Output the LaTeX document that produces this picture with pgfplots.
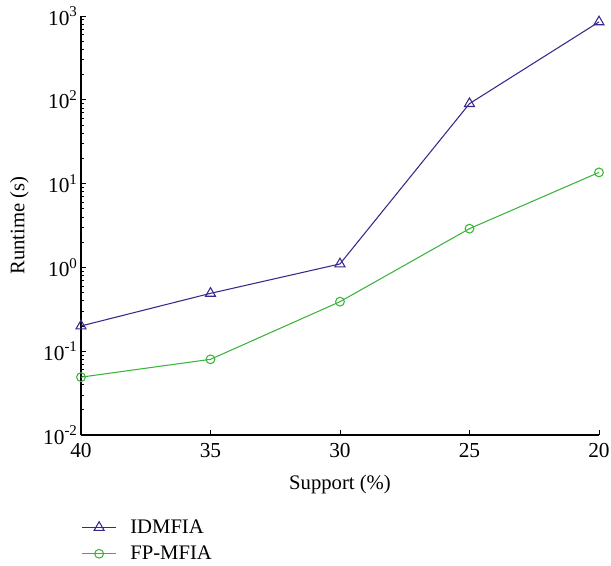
\documentclass[border=0pt]{standalone}
\usepackage{fontspec}
\setmainfont{Liberation Serif}
\usepackage{pgfplots}
\pgfplotsset{compat=1.18}
\definecolor{idm}{RGB}{55,40,140}
\definecolor{fpm}{RGB}{60,180,60}
\begin{document}
\begin{tikzpicture}
\useasboundingbox (-60.75pt,-98.25pt) rectangle (397.5pt,326.25pt);
\begin{semilogyaxis}[
  at={(0,0)}, anchor=south west,
  scale only axis,
  width=388.5pt, height=314.25pt,
  x dir=reverse,
  xmin=20, xmax=40,
  ymin=1e-2, ymax=1e3,
  xtick={40,35,30,25,20},
  ytick={1e-2,1e-1,1e0,1e1,1e2,1e3},
  yticklabels={10\textsuperscript{-2},10\textsuperscript{-1},10\textsuperscript{0},10\textsuperscript{1},10\textsuperscript{2},10\textsuperscript{3}},
  axis x line*=bottom, axis y line*=left,
  axis line style={line width=0.8pt, black},
  tick align=inside,
  major tick length=4pt, minor tick length=2.5pt,
  tick style={line width=0.6pt, black},
  /pgf/number format/assume math mode=true,
  tick label style={font=\fontsize{16}{18}\selectfont},
  xticklabel style={yshift=-3pt},
  yticklabel style={xshift=1pt},
  xlabel={Support (\%)}, ylabel={Runtime (s)},
  label style={font=\fontsize{15.5}{17}\selectfont},
  xlabel style={yshift=-6pt},
  ylabel style={yshift=4pt},
  clip=false,
  legend style={at={(0,-0.195)}, anchor=north west, draw=none, fill=none,
    inner sep=0pt, font=\fontsize{15.5}{17}\selectfont, row sep=4pt,
    cells={anchor=west}, nodes={inner xsep=10pt}},
  legend image code/.code={
    \draw[mark repeat=2, mark phase=2, #1] plot coordinates {(-10pt,0pt) (3pt,0pt) (16pt,0pt)};},
]
\addplot[idm, line width=0.8pt, mark=triangle, mark size=4.3pt, mark options={line width=0.8pt}] coordinates {
  (40,0.2) (35,0.49) (30,1.1) (25,90) (20,850)
};
\addlegendentry{IDMFIA}
\addplot[fpm, line width=0.8pt, mark=o, mark size=3.3pt, mark options={line width=0.8pt}] coordinates {
  (40,0.049) (35,0.08) (30,0.39) (25,2.9) (20,13.6)
};
\addlegendentry{FP-MFIA}
\end{semilogyaxis}
\end{tikzpicture}
\end{document}
